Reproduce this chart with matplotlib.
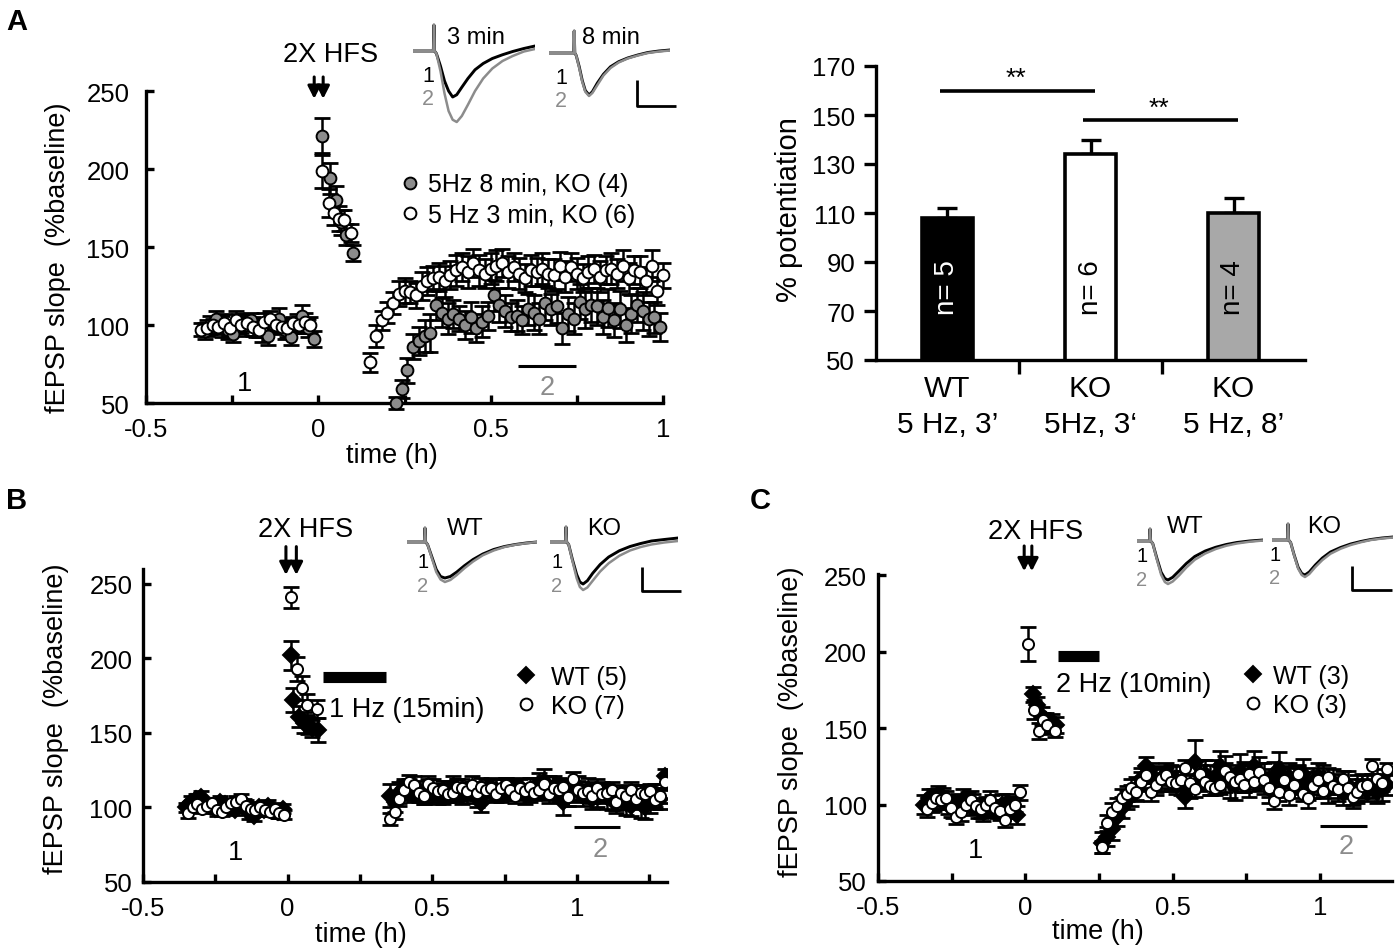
import numpy as np
import matplotlib
matplotlib.use('Agg')
import matplotlib.pyplot as plt
from matplotlib.lines import Line2D

plt.rcParams['font.family'] = ['Liberation Sans', 'DejaVu Sans']

# ------------------------------------------------------------------ data
STEP = 1.0 / 60.0  # one sample per minute (h)

# Panel A : KO, 5 Hz 3 min (open) and 5 Hz 8 min (grey)
a3_base_t0 = -0.34
a3_base = [97, 98, 100, 99, 101, 98, 103, 100, 101, 99, 97, 102, 104, 100, 99, 98, 101, 100, 102, 100]
a3_base_e = [4, 5, 4, 5, 6, 5, 6, 5, 4, 6, 5, 6, 5, 4, 5, 6, 4, 5, 6, 5]
a3_early_t = [0.01, 0.03, 0.045, 0.06, 0.075, 0.095]
a3_early = [199, 178, 172, 168, 167, 159]
a3_early_e = [11, 9, 8, 8, 7, 6]
a3_late_t0 = 0.15
a3_late = [76, 93, 103, 108, 114, 120, 122, 121, 119, 125, 128, 130, 131, 128, 132, 135, 137, 134,
           140, 135, 133, 136, 138, 140, 134, 137, 133, 130, 135, 134, 136, 133, 132, 138, 131, 137,
           133, 130, 134, 136, 131, 135, 136, 133, 138, 130, 135, 134, 128, 138, 122, 132]
a3_late_e = [6, 7, 6, 7, 7, 8, 8, 7, 8, 9, 9, 8, 9, 10, 9, 10, 9, 10, 9, 10, 9, 10, 10, 9, 10, 9,
             10, 9, 10, 9, 10, 9, 10, 9, 10, 9, 10, 9, 10, 9, 10, 9, 10, 9, 10, 10, 9, 10, 9, 10, 9, 8]

a8_base_t0 = -0.33
a8_base = [96, 100, 104, 99, 97, 94, 101, 100, 103, 98, 96, 93, 100, 104, 97, 92, 101, 106, 98, 91]
a8_base_e = [5, 6, 5, 7, 6, 5, 6, 7, 5, 6, 7, 6, 5, 7, 6, 5, 6, 7, 6, 5]
a8_early_t = [0.01, 0.035, 0.05, 0.065, 0.08, 0.1]
a8_early = [221, 194, 180, 166, 158, 146]
a8_early_e = [12, 10, 9, 8, 7, 5]
a8_late_t0 = 0.225
a8_late = [50, 59, 71, 86, 90, 93, 95, 113, 108, 104, 107, 104, 100, 105, 98, 102, 106, 119, 113,
           109, 105, 106, 103, 110, 108, 104, 114, 110, 112, 98, 107, 104, 115, 110, 113, 112, 105,
           111, 103, 110, 100, 107, 113, 109, 104, 105, 99]
a8_late_e = [4, 6, 8, 8, 9, 10, 12, 10, 9, 10, 9, 8, 9, 10, 9, 10, 9, 10, 11, 10, 9, 10, 9, 10, 11,
             10, 11, 10, 11, 10, 11, 10, 11, 12, 11, 12, 11, 12, 11, 12, 11, 12, 11, 12, 11, 10, 9]

# Bar chart (% potentiation)
bar_labels = ['WT\n5 Hz, 3\u2019', 'KO\n5Hz, 3\u2018', 'KO\n5 Hz, 8\u2019']
bar_values = [108, 134, 110]
bar_errors = [4, 6, 6]
bar_n = ['n= 5', 'n= 6', 'n= 4']
bar_colors = ['#000000', '#ffffff', '#a8a8a8']
bar_ncolors = ['white', 'black', 'black']
sig_pairs = [(0, 1), (1, 2)]
sig_y = [160, 148]

# Panel B : 1 Hz (15 min)
bwt_base_t0 = -0.35
bwt_base = [100, 104, 106, 107, 103, 101, 99, 104, 102, 100, 98, 101, 103, 96, 94, 100, 98, 101, 99, 97, 99]
bwt_base_e = [3, 4, 3, 4, 3, 4, 3, 4, 3, 4, 3, 4, 3, 4, 3, 4, 3, 4, 3, 4, 3]
bwt_early_t = [0.01, 0.02, 0.04, 0.055, 0.07, 0.085, 0.104]
bwt_early = [202, 172, 161, 157, 155, 153, 152]
bwt_early_e = [10, 8, 7, 7, 6, 6, 8]
bwt_late_t0 = 0.353
bwt_late = [108, 104, 110, 113, 112, 110, 111, 108, 112, 110, 109, 108, 111, 113, 112, 108, 110, 111,
            107, 103, 112, 114, 112, 110, 113, 111, 112, 114, 109, 110, 113, 115, 117, 113, 114, 112,
            104, 109, 111, 113, 108, 112, 106, 108, 110, 107, 105, 104, 106, 103, 101, 107, 102, 100,
            105, 108, 106, 121]
bwt_late_e = [8, 7, 7, 6, 7, 6, 7, 6, 7, 6, 7, 6, 7, 8, 7, 6, 7, 6, 7, 6, 7, 6, 7, 6, 7, 6, 7, 6,
              7, 6, 7, 8, 9, 8, 7, 8, 9, 8, 7, 8, 7, 8, 7, 8, 7, 8, 7, 8, 7, 8, 7, 8, 9, 8, 9, 8, 7, 5]

bko_base_t0 = -0.345
bko_base = [96, 100, 102, 99, 101, 103, 98, 97, 100, 103, 104, 106, 101, 99, 98, 100, 98, 97, 99, 96, 95]
bko_base_e = [3, 3, 4, 3, 4, 3, 4, 3, 4, 3, 4, 3, 4, 3, 4, 3, 4, 3, 4, 3, 3]
bko_early_t = [0.01, 0.031, 0.049, 0.066, 0.1]
bko_early = [241, 193, 180, 169, 166]
bko_early_e = [7, 8, 8, 7, 6]
bko_late_t0 = 0.353
bko_late = [92, 97, 106, 112, 117, 115, 110, 108, 116, 113, 111, 112, 109, 110, 114, 113, 111, 115,
            110, 114, 112, 113, 109, 113, 115, 112, 108, 113, 111, 114, 110, 112, 116, 109, 113, 112,
            114, 107, 119, 112, 110, 111, 108, 113, 109, 110, 112, 104, 110, 108, 112, 106, 110, 109,
            111, 105, 108, 117]
bko_late_e = [4, 5, 5, 6, 5, 6, 5, 6, 5, 6, 5, 6, 5, 6, 5, 6, 5, 6, 5, 6, 5, 6, 5, 6, 5, 6, 5, 6,
              5, 6, 5, 6, 5, 6, 5, 6, 5, 6, 5, 6, 5, 6, 5, 6, 5, 6, 5, 6, 5, 6, 5, 6, 5, 6, 5, 6, 5, 5]

# Panel C : 2 Hz (10 min)
cwt_base_t0 = -0.345
cwt_base = [100, 104, 103, 106, 104, 100, 98, 101, 103, 102, 100, 97, 96, 98, 99, 97, 100, 101, 98, 93]
cwt_base_e = [6, 6, 7, 6, 7, 6, 7, 6, 7, 6, 7, 6, 7, 6, 7, 6, 7, 6, 7, 6]
cwt_early_t = [0.025, 0.04, 0.055, 0.07, 0.09, 0.105]
cwt_early = [172, 165, 158, 155, 153, 152]
cwt_early_e = [5, 5, 6, 5, 6, 5]
cwt_late_t0 = 0.26
cwt_late = [75, 79, 84, 92, 98, 103, 106, 110, 117, 125, 119, 115, 117, 120, 118, 116, 114, 105, 110,
            128, 119, 120, 116, 118, 125, 120, 115, 113, 122, 118, 116, 125, 120, 117, 112, 118, 123,
            115, 118, 114, 116, 120, 112, 114, 118, 116, 110, 115, 111, 108, 113, 106, 110, 112, 109,
            112, 108, 110, 113]
cwt_late_e = [7, 6, 7, 6, 7, 6, 7, 8, 7, 6, 8, 9, 8, 7, 8, 9, 8, 7, 6, 14, 10, 9, 10, 11, 10, 12,
              11, 10, 11, 10, 11, 10, 11, 10, 11, 10, 11, 10, 9, 10, 9, 10, 9, 10, 9, 10, 9, 8, 9,
              8, 9, 8, 9, 8, 7, 8, 7, 8, 7]

cko_base_t0 = -0.335
cko_base = [97, 101, 104, 103, 104, 98, 92, 95, 100, 103, 99, 97, 100, 103, 98, 96, 90, 97, 100, 108]
cko_base_e = [5, 6, 5, 6, 5, 6, 5, 6, 5, 6, 5, 6, 5, 6, 5, 6, 5, 6, 5, 5]
cko_early_t = [0.01, 0.03, 0.045, 0.06, 0.075, 0.1]
cko_early = [205, 162, 148, 155, 152, 148]
cko_early_e = [11, 6, 5, 5, 6, 4]
cko_late_t0 = 0.26
cko_late = [72, 88, 95, 99, 104, 107, 111, 108, 115, 119, 108, 113, 117, 119, 115, 114, 116, 124,
            114, 110, 120, 115, 112, 111, 113, 122, 118, 115, 117, 113, 120, 115, 121, 116, 111,
            102, 108, 116, 106, 113, 120, 107, 104, 112, 116, 109, 118, 112, 110, 117, 111, 105,
            108, 112, 113, 125, 117, 114, 123]
cko_late_e = [4, 5, 6, 5, 6, 5, 6, 5, 6, 5, 6, 5, 6, 5, 6, 5, 6, 5, 6, 5, 6, 5, 6, 5, 6, 5, 6, 5,
              6, 5, 6, 5, 6, 5, 6, 5, 6, 5, 6, 5, 6, 5, 6, 5, 6, 5, 6, 5, 6, 5, 6, 5, 6, 5, 6, 5, 6, 5, 4]

# Stimulation bars (h) and their y level
stimB = (0.123, 0.34, 187.5)
stimC = (0.11, 0.25, 197)

# Example fEPSP traces (ms, mV) : black = 1 (baseline), grey = 2 (after LTP)
trA1_t = [0, 2.0, 2.06, 2.12, 2.3, 2.7, 3.1, 3.5, 3.9, 4.3, 4.8, 5.4, 6.1, 6.9, 7.8, 8.8, 9.8, 10.9, 12]
trA1_1 = [0, 0, 1.04, 0, -0.1, -0.6, -1.2, -1.6, -1.84, -1.75, -1.45, -1.1, -0.75, -0.5, -0.3, -0.15, -0.02, 0.1, 0.2]
trA1_2 = [0, 0, 1.04, 0, -0.1, -0.8, -1.7, -2.4, -2.75, -2.84, -2.6, -2.15, -1.6, -1.1, -0.7, -0.4, -0.2, -0.02, 0.08]
trA2_t = [0, 2.45, 2.5, 2.56, 2.7, 3.0, 3.3, 3.6, 3.97, 4.3, 4.8, 5.4, 6.1, 6.9, 7.8, 8.8, 9.8, 10.9, 12]
trA2_1 = [0, 0, 0.88, 0, -0.1, -0.55, -1.1, -1.5, -1.68, -1.55, -1.2, -0.85, -0.55, -0.35, -0.2, -0.08, 0.02, 0.08, 0.12]
trA2_2 = [0, 0, 0.88, 0, -0.1, -0.6, -1.15, -1.55, -1.72, -1.6, -1.28, -0.9, -0.6, -0.38, -0.22, -0.1, 0.0, 0.06, 0.1]
trB1_t = [0, 1.6, 1.66, 1.72, 1.9, 2.3, 2.7, 3.1, 3.5, 4.0, 4.6, 5.3, 6.1, 7.0, 8.0, 9.0, 10.0, 11.0, 12]
trB1_1 = [0, 0, 0.56, 0, -0.1, -0.6, -1.1, -1.38, -1.44, -1.38, -1.2, -0.95, -0.7, -0.48, -0.3, -0.18, -0.1, -0.04, 0]
trB1_2 = [0, 0, 0.56, 0, -0.1, -0.65, -1.2, -1.5, -1.6, -1.52, -1.32, -1.05, -0.78, -0.53, -0.34, -0.2, -0.11, -0.05, 0]
trB2_t = [0, 1.45, 1.5, 1.56, 1.75, 2.1, 2.5, 2.8, 3.1, 3.5, 4.0, 4.7, 5.5, 6.5, 7.5, 8.5, 9.5, 10.7, 12]
trB2_1 = [0, 0, 0.6, 0, -0.1, -0.7, -1.3, -1.6, -1.68, -1.55, -1.25, -0.9, -0.6, -0.35, -0.18, -0.06, 0.04, 0.1, 0.16]
trB2_2 = [0, 0, 0.6, 0, -0.1, -0.75, -1.45, -1.8, -1.92, -1.82, -1.55, -1.18, -0.85, -0.55, -0.34, -0.2, -0.1, -0.02, 0.04]
trC1_t = [0, 1.2, 1.24, 1.3, 1.5, 1.9, 2.3, 2.65, 2.95, 3.4, 4.0, 4.7, 5.5, 6.5, 7.5, 8.5, 9.5, 10.7, 12]
trC1_1 = [0, 0, 0.48, 0, -0.1, -0.7, -1.25, -1.5, -1.56, -1.45, -1.2, -0.9, -0.62, -0.4, -0.25, -0.14, -0.06, 0.0, 0.04]
trC1_2 = [0, 0, 0.48, 0, -0.1, -0.75, -1.35, -1.64, -1.72, -1.62, -1.38, -1.06, -0.75, -0.5, -0.32, -0.19, -0.1, -0.03, 0.02]
trC2_t = [0, 1.55, 1.59, 1.65, 1.85, 2.2, 2.6, 2.95, 3.27, 3.7, 4.3, 5.0, 5.8, 6.8, 7.8, 8.8, 9.8, 10.9, 12]
trC2_1 = [0, 0, 0.64, 0, -0.1, -0.6, -1.1, -1.34, -1.4, -1.28, -1.0, -0.72, -0.48, -0.3, -0.16, -0.06, 0.02, 0.08, 0.12]
trC2_2 = [0, 0, 0.64, 0, -0.1, -0.62, -1.15, -1.4, -1.48, -1.36, -1.08, -0.8, -0.55, -0.35, -0.2, -0.09, 0.0, 0.06, 0.1]

# ------------------------------------------------------------------ figure
W, H, DPI = 1400, 953, 100
fig = plt.figure(figsize=(W / DPI, H / DPI), dpi=DPI)
GREY = '#8c8c8c'
TXT = 19.5
TICK = 18.5
LW = 2.4


def px_axes(x0, y0, x1, y1):
    return fig.add_axes([x0 / W, 1 - y1 / H, (x1 - x0) / W, (y1 - y0) / H])


def seg_times(t0, vals):
    return t0 + STEP * np.arange(len(vals))


def series(base_t0, base, base_e, early_t, early, early_e, late_t0, late, late_e):
    t = np.concatenate([seg_times(base_t0, base), np.asarray(early_t, float), seg_times(late_t0, late)])
    v = np.concatenate([base, early, late]).astype(float)
    e = np.concatenate([base_e, early_e, late_e]).astype(float)
    return t, v, e


def time_axis(ax, xmax, ytop, ypad, xpad):
    ax.set_xlim(-0.5, xmax)
    ax.set_ylim(50, ytop)
    for s in ['top', 'right']:
        ax.spines[s].set_visible(False)
    for s in ['left', 'bottom']:
        ax.spines[s].set_linewidth(LW)
    ticks = np.arange(-0.5, xmax + 1e-6, 0.25)
    labels = []
    for v in ticks:
        if abs(v * 2 - round(v * 2)) < 1e-6:
            labels.append('%g' % v)
        else:
            labels.append('')
    ax.set_xticks(ticks, labels)
    ax.set_yticks([50, 100, 150, 200, 250])
    ax.tick_params(axis='both', direction='in', length=6, width=LW, labelsize=TICK)
    ax.tick_params(axis='y', pad=ypad)
    ax.tick_params(axis='x', pad=xpad)
    ax.set_xlabel('time (h)', fontsize=TXT)
    ax.set_ylabel('fEPSP slope  (%baseline)', fontsize=TXT)


def draw_errors(ax, t, v, e):
    ax.errorbar(t, v, yerr=e, fmt='none', ecolor='k', elinewidth=1.8, capsize=6,
                capthick=2.0, zorder=2)


def draw_marks(ax, t, v, marker, face, ms):
    ax.plot(t, v, linestyle='none', marker=marker, ms=ms, mfc=face, mec='k', mew=1.4, zorder=3)


def hfs(ax, tx, ty, xs, ytop, ytip):
    ax.text(tx, ty, '2X HFS', ha='center', va='center', fontsize=TXT, clip_on=False)
    for x in xs:
        ax.annotate('', xy=(x, ytip), xytext=(x, ytop), annotation_clip=False,
                    arrowprops=dict(arrowstyle='-|>,head_length=0.75,head_width=0.38', lw=2.2,
                                    color='k', shrinkA=0, shrinkB=0, mutation_scale=10))


def period_marks(ax, one_xy, two_xy, bar_x0, bar_x1, bar_y):
    ax.text(one_xy[0], one_xy[1], '1', ha='center', va='center', fontsize=TXT, color='k')
    ax.text(two_xy[0], two_xy[1], '2', ha='center', va='center', fontsize=TXT, color=GREY)
    ax.hlines(bar_y, bar_x0, bar_x1, colors='k', lw=2.2)


def legend(ax, handles, labels, x, y, pad, spacing):
    ax.legend(handles, labels, loc='center left', bbox_to_anchor=(x, y), frameon=False,
              fontsize=18, handlelength=0.8, handletextpad=pad, labelspacing=spacing,
              borderpad=0, borderaxespad=0)


def trace_inset(x0, base_y, px_per_ms, px_per_mv=25.0, xlim=(0, 12), ylim=(-3.0, 1.3)):
    left = x0
    right = x0 + (xlim[1] - xlim[0]) * px_per_ms
    top = base_y - ylim[1] * px_per_mv
    bottom = base_y - ylim[0] * px_per_mv
    ax = px_axes(left, top, right, bottom)
    ax.set_xlim(*xlim)
    ax.set_ylim(*ylim)
    ax.axis('off')
    return ax


def draw_traces(ax, t, y1, y2, lab_x, lab_y1, lab_y2, title=None, title_xy=None,
                title_ha='center', num_size=16.5):
    ax.plot(t, y1, color='k', lw=2.1, solid_joinstyle='round')
    ax.plot(t, y2, color=GREY, lw=1.8, solid_joinstyle='round')
    ax.text(lab_x, lab_y1, '1', ha='center', va='center', fontsize=num_size, color='k')
    ax.text(lab_x, lab_y2, '2', ha='center', va='center', fontsize=num_size, color=GREY)
    if title:
        ax.text(title_xy[0], title_xy[1], title, ha=title_ha, va='center', fontsize=17)


def scale_bar(ax, x0, x1, y0, y1):
    ax.plot([x0, x0, x1], [y0, y1, y1], color='k', lw=2.0, clip_on=False,
            solid_capstyle='butt')


# ----------------------------------------------------------- panel A (left)
axA = px_axes(146, 92, 663, 404)
time_axis(axA, 1.0, 250, 12, 10)
t8, v8, e8 = series(a8_base_t0, a8_base, a8_base_e, a8_early_t, a8_early, a8_early_e,
                    a8_late_t0, a8_late, a8_late_e)
t3, v3, e3 = series(a3_base_t0, a3_base, a3_base_e, a3_early_t, a3_early, a3_early_e,
                    a3_late_t0, a3_late, a3_late_e)
draw_errors(axA, t8, v8, e8)
draw_errors(axA, t3, v3, e3)
draw_marks(axA, t8, v8, 'o', GREY, 8.5)
draw_marks(axA, t3, v3, 'o', 'white', 8.5)
for art in axA.lines + axA.collections:
    art.set_clip_on(False)
hfs(axA, 0.035, 274, [-0.012, 0.014], 259, 245)
period_marks(axA, (-0.214, 63), (0.665, 60), 0.58, 0.747, 74)
legend(axA, [Line2D([], [], ls='none', marker='o', ms=8.5, mfc=GREY, mec='k', mew=1.4),
             Line2D([], [], ls='none', marker='o', ms=8.5, mfc='white', mec='k', mew=1.4)],
       ['5Hz 8 min, KO (4)', '5 Hz 3 min, KO (6)'], 0.491, 0.652, 0.32, 0.26)
axA.yaxis.set_label_coords(-0.145, 0.468)
axA.xaxis.set_label_coords(0.476, -0.125)

# ----------------------------------------------------------- panel A (right, bars)
axR = px_axes(876, 67, 1305, 361)
xb = np.arange(len(bar_values))
axR.bar(xb, bar_values, width=0.36, bottom=0, color=bar_colors, edgecolor='k', linewidth=2.6, zorder=2)
axR.errorbar(xb, bar_values, yerr=[np.zeros(len(bar_errors)), bar_errors], fmt='none', ecolor='k',
             elinewidth=2.4, capsize=7.5, capthick=2.4, zorder=1)
axR.set_xlim(-0.5, 2.5)
axR.set_ylim(50, 170)
for s in ['top', 'right']:
    axR.spines[s].set_visible(False)
for s in ['left', 'bottom']:
    axR.spines[s].set_linewidth(LW)
axR.set_yticks(np.arange(50, 171, 20))
axR.set_xticks([0.5, 1.5], ['', ''])
axR.set_xticks(xb, bar_labels, minor=True)
axR.tick_params(axis='y', direction='out', length=9, width=LW, labelsize=TICK, pad=6)
axR.tick_params(axis='x', which='major', direction='out', length=10, width=LW)
axR.tick_params(axis='x', which='minor', length=0, labelsize=21.5, pad=10)
for lab in axR.get_xticklabels(minor=True):
    lab.set_linespacing(1.35)
axR.set_ylabel('% potentiation', fontsize=21)
axR.yaxis.set_label_coords(-0.17, 0.514)
for i, (txt, col) in enumerate(zip(bar_n, bar_ncolors)):
    axR.text(xb[i], 80, txt, rotation=90, ha='center', va='center', fontsize=20, color=col, zorder=3)
for (i, j), y in zip(sig_pairs, sig_y):
    axR.hlines(y, xb[i] - 0.05, xb[j] + 0.03, colors='k', lw=2.6)
    axR.text((xb[i] + xb[j]) / 2 - 0.02, y + 5.0, '**', ha='center', va='center', fontsize=19)

# ----------------------------------------------------------- panel B
axB = px_axes(143, 570, 667, 883)
time_axis(axB, 1.311, 260, 7.5, 10)
tbw, vbw, ebw = series(bwt_base_t0, bwt_base, bwt_base_e, bwt_early_t, bwt_early, bwt_early_e,
                       bwt_late_t0, bwt_late, bwt_late_e)
tbk, vbk, ebk = series(bko_base_t0, bko_base, bko_base_e, bko_early_t, bko_early, bko_early_e,
                       bko_late_t0, bko_late, bko_late_e)
draw_errors(axB, tbw, vbw, ebw)
draw_errors(axB, tbk, vbk, ebk)
draw_marks(axB, tbw, vbw, 'D', 'black', 8)
draw_marks(axB, tbk, vbk, 'o', 'white', 8)
hfs(axB, 0.061, 287, [-0.006, 0.03], 275, 256)
axB.hlines(stimB[2], stimB[0], stimB[1], colors='k', lw=8)
axB.text(stimB[0] + 0.02, 166, '1 Hz (15min)', ha='left', va='center', fontsize=TXT)
period_marks(axB, (-0.18, 70), (1.08, 72), 0.99, 1.15, 87)
legend(axB, [Line2D([], [], ls='none', marker='D', ms=8, mfc='black', mec='k', mew=1.4),
             Line2D([], [], ls='none', marker='o', ms=8.5, mfc='white', mec='k', mew=1.4)],
       ['WT (5)', 'KO (7)'], (526 - 10 - 143) / 524, 0.610, 0.6, 0.2)
axB.yaxis.set_label_coords(-0.141, 0.524)
axB.xaxis.set_label_coords(0.416, -0.125)

# ----------------------------------------------------------- panel C
axC = px_axes(878, 574.5, 1392, 882)
time_axis(axC, 1.244, 251, 8, 10)
tcw, vcw, ecw = series(cwt_base_t0, cwt_base, cwt_base_e, cwt_early_t, cwt_early, cwt_early_e,
                       cwt_late_t0, cwt_late, cwt_late_e)
tck, vck, eck = series(cko_base_t0, cko_base, cko_base_e, cko_early_t, cko_early, cko_early_e,
                       cko_late_t0, cko_late, cko_late_e)
draw_errors(axC, tcw, vcw, ecw)
draw_errors(axC, tck, vck, eck)
draw_marks(axC, tcw, vcw, 'D', 'black', 8)
draw_marks(axC, tck, vck, 'o', 'white', 8)
hfs(axC, 0.036, 279, [-0.004, 0.022], 269, 252.5)
axC.hlines(stimC[2], stimC[0], stimC[1], colors='k', lw=8)
axC.text(stimC[0] - 0.005, 179, '2 Hz (10min)', ha='left', va='center', fontsize=TXT)
period_marks(axC, (-0.17, 70), (1.09, 73), 1.0, 1.16, 86)
legend(axC, [Line2D([], [], ls='none', marker='D', ms=8, mfc='black', mec='k', mew=1.4),
             Line2D([], [], ls='none', marker='o', ms=8.5, mfc='white', mec='k', mew=1.4)],
       ['WT (3)', 'KO (3)'], (1252.6 - 10 - 878) / 514, 0.62, 0.4, 0.2)
axC.yaxis.set_label_coords(-0.143, 0.52)
axC.xaxis.set_label_coords(0.428, -0.12)

# ----------------------------------------------------------- insets (traces)
iA1 = trace_inset(413, 52, 10.17)
draw_traces(iA1, trA1_t, trA1_1, trA1_2, 1.47, -0.96, -1.9, '3 min', (3.3, 0.56), 'left', 15.5)
iA2 = trace_inset(549, 54, 10.08)
draw_traces(iA2, trA2_t, trA2_1, trA2_2, 1.19, -0.96, -1.9, '8 min', (3.25, 0.62), 'left', 15.5)
scale_bar(iA2, 8.73, 12.6, -1.08, -2.12)

iB1 = trace_inset(407, 543, 10.83)
draw_traces(iB1, trB1_t, trB1_1, trB1_2, 1.48, -0.78, -1.72, 'WT', (5.36, 0.56), 'center', 14.5)
iB2 = trace_inset(550, 543, 10.67)
draw_traces(iB2, trB2_t, trB2_1, trB2_2, 0.66, -0.78, -1.72, 'KO', (5.06, 0.56), 'center', 14.5)
scale_bar(iB2, 8.62, 12.28, -1.0, -1.96)

iC1 = trace_inset(1137, 542, 10.5)
draw_traces(iC1, trC1_t, trC1_1, trC1_2, 0.48, -0.58, -1.52, 'WT', (4.57, 0.6), 'center', 14.5)
iC2 = trace_inset(1272, 541, 10.08)
draw_traces(iC2, trC2_t, trC2_1, trC2_2, 0.3, -0.58, -1.52, 'KO', (5.16, 0.56), 'center', 14.5)
scale_bar(iC2, 7.94, 11.9, -1.04, -2.0)

# ----------------------------------------------------------- panel letters
for lab, x, y in [('A', 6, 8), ('B', 6, 487), ('C', 750, 487)]:
    fig.text(x / W, 1 - y / H, lab, fontsize=21, fontweight='bold', ha='left', va='top')

fig.savefig('out.png', dpi=DPI)
